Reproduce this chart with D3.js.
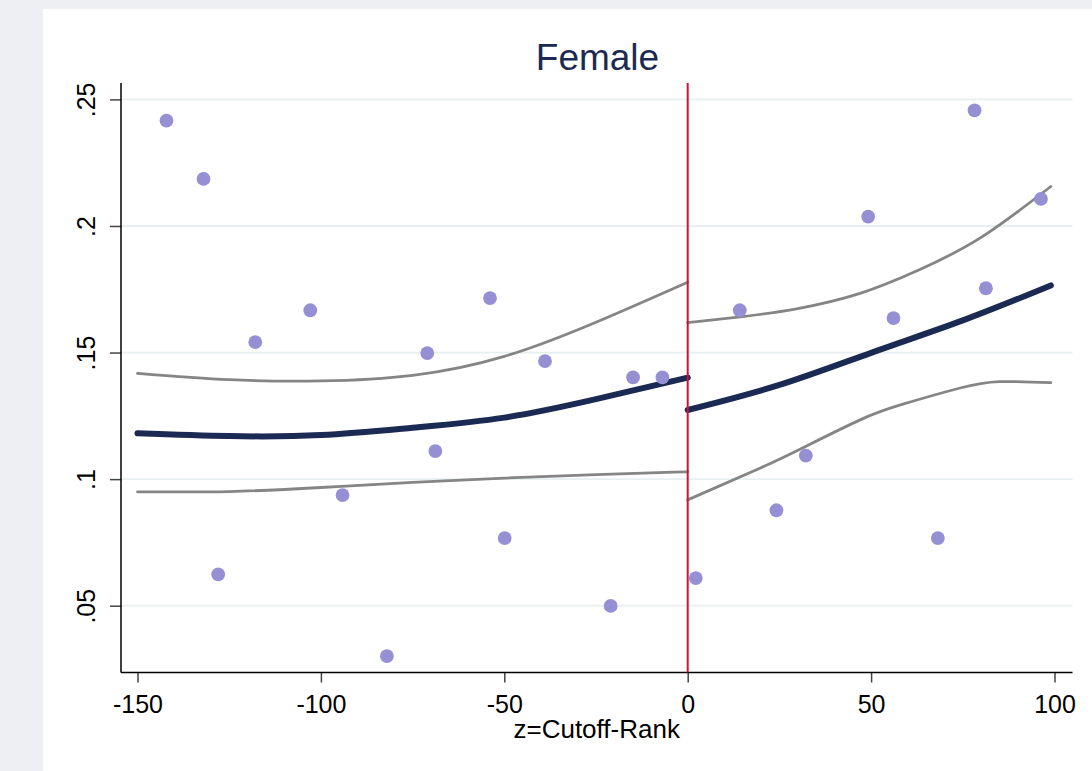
<!DOCTYPE html>
<html>
<head>
<meta charset="utf-8">
<script src="https://cdn.jsdelivr.net/npm/d3@7"></script>
<style>
  body { margin: 0; background: #eeeff2; }
  text { font-family: "Liberation Sans", Arial, sans-serif; }
</style>
</head>
<body>
<div id="chart"></div>
<script>
// binned means
const binX = [-142.1, -132.0, -128.0, -117.9, -102.9, -94.1, -82.0, -71.0, -68.8, -53.9,
              -49.9, -38.9, -21.0, -14.9, -6.9, 2.2, 14.2, 24.2, 32.2, 49.2,
              56.1, 68.2, 78.2, 81.3, 96.3];
const binY = [0.2416, 0.2186, 0.0624, 0.1541, 0.1667, 0.0937, 0.0301, 0.1498, 0.1111, 0.1715,
              0.0767, 0.1466, 0.0499, 0.1402, 0.1402, 0.0609, 0.1667, 0.0877, 0.1093, 0.2037,
              0.1636, 0.0767, 0.2457, 0.1754, 0.2107];

// fitted line and CI, left of cutoff
const leftX = [-150, -125, -100, -75, -50, -25, 0];
const leftFit = [0.1181, 0.1170, 0.1174, 0.1203, 0.1243, 0.1316, 0.1401];
const leftUpper = [0.1418, 0.1393, 0.1388, 0.1410, 0.1485, 0.1620, 0.1778];
const leftLower = [0.0950, 0.0951, 0.0967, 0.0987, 0.1004, 0.1018, 0.1029];

// right of cutoff
const rightFitX = [0, 25, 50, 75, 99];
const rightFit = [0.1273, 0.1372, 0.1499, 0.1627, 0.1765];
const rightUpperX = [0, 15, 30, 47, 63, 80, 99];
const rightUpper = [0.1618, 0.1642, 0.1674, 0.1734, 0.1826, 0.1955, 0.2156];
const rightLowerX = [0, 20, 32, 47, 58, 74, 85, 99];
const rightLower = [0.0918, 0.1045, 0.1128, 0.1234, 0.1293, 0.1359, 0.1385, 0.1381];

const xTicks = [-150, -100, -50, 0, 50, 100];
const yTicks = [0.05, 0.1, 0.15, 0.2, 0.25];
const yTickLabels = [".05", ".1", ".15", ".2", ".25"];
const cutoff = 0;

const width = 1092, height = 771;
const plotLeft = 121, plotRight = 1072.5, plotTop = 83, plotBottom = 672.5;

const svg = d3.select("#chart").append("svg")
    .attr("width", width)
    .attr("height", height);

svg.append("rect")
    .attr("width", width).attr("height", height)
    .attr("fill", "#eeeff2");
svg.append("rect")
    .attr("x", 43).attr("y", 9)
    .attr("width", width - 43).attr("height", height - 9)
    .attr("fill", "#ffffff");

const x = d3.scaleLinear().domain([-150, 100]).range([137.5, 1054.5]);
const y = d3.scaleLinear().domain([0.05, 0.25]).range([605.7, 99.4]);

// gridlines
svg.append("g")
    .selectAll("line")
    .data(yTicks)
    .join("line")
        .attr("x1", plotLeft)
        .attr("x2", plotRight)
        .attr("y1", d => y(d))
        .attr("y2", d => y(d))
        .attr("stroke", "#e7eff0")
        .attr("stroke-width", 1.8);

// y axis
const yAxis = svg.append("g")
    .attr("transform", `translate(${plotLeft},0)`)
    .call(d3.axisLeft(y)
        .tickValues(yTicks)
        .tickSize(11)
        .tickFormat((d, i) => yTickLabels[i]));
yAxis.select(".domain").remove();
yAxis.selectAll(".tick line").attr("stroke", "#444").attr("stroke-width", 1.5);
yAxis.selectAll(".tick text")
    .attr("transform", "rotate(-90)")
    .attr("text-anchor", "middle")
    .attr("x", 0)
    .attr("y", -26)
    .attr("dy", 0)
    .attr("font-size", 25)
    .attr("fill", "#000");

// x axis (plain hyphen for negatives, as in the original)
const xAxis = svg.append("g")
    .attr("transform", `translate(0,${plotBottom})`)
    .call(d3.axisBottom(x)
        .tickValues(xTicks)
        .tickSize(10)
        .tickFormat(d => String(d)));
xAxis.select(".domain").remove();
xAxis.selectAll(".tick line").attr("stroke", "#444").attr("stroke-width", 1.5);
xAxis.selectAll(".tick text")
    .attr("y", 40)
    .attr("dy", 0)
    .attr("font-size", 25)
    .attr("fill", "#000");

// axis lines
svg.append("line")
    .attr("x1", plotLeft).attr("x2", plotLeft)
    .attr("y1", plotTop).attr("y2", plotBottom)
    .attr("stroke", "#000").attr("stroke-width", 1.5);
svg.append("line")
    .attr("x1", plotLeft).attr("x2", plotRight)
    .attr("y1", plotBottom).attr("y2", plotBottom)
    .attr("stroke", "#000").attr("stroke-width", 1.5);

// curves
const line = d3.line()
    .x(d => x(d[0]))
    .y(d => y(d[1]))
    .curve(d3.curveNatural);

const curves = [
    { xs: leftX, ys: leftUpper, color: "#858585", w: 2.8 },
    { xs: leftX, ys: leftLower, color: "#858585", w: 2.8 },
    { xs: rightUpperX, ys: rightUpper, color: "#858585", w: 2.8 },
    { xs: rightLowerX, ys: rightLower, color: "#858585", w: 2.8 },
    { xs: leftX, ys: leftFit, color: "#1b2a52", w: 6 },
    { xs: rightFitX, ys: rightFit, color: "#1b2a52", w: 6 }
];

svg.append("g")
    .selectAll("path")
    .data(curves)
    .join("path")
        .attr("d", c => line(c.xs.map((v, i) => [v, c.ys[i]])))
        .attr("fill", "none")
        .attr("stroke", c => c.color)
        .attr("stroke-width", c => c.w)
        .attr("stroke-linecap", "round");

// cutoff line
svg.append("line")
    .attr("x1", x(cutoff)).attr("x2", x(cutoff))
    .attr("y1", plotTop).attr("y2", plotBottom)
    .attr("stroke", "#c8143c")
    .attr("stroke-width", 2);

// points
svg.append("g")
    .selectAll("circle")
    .data(binX.map((v, i) => [v, binY[i]]))
    .join("circle")
        .attr("cx", d => x(d[0]))
        .attr("cy", d => y(d[1]))
        .attr("r", 6.9)
        .attr("fill", "#9590d3");

// titles
svg.append("text")
    .attr("x", 597.5)
    .attr("y", 70)
    .attr("text-anchor", "middle")
    .attr("font-size", 37)
    .attr("fill", "#1b2a52")
    .text("Female");

svg.append("text")
    .attr("x", 596.7)
    .attr("y", 738)
    .attr("text-anchor", "middle")
    .attr("font-size", 26)
    .attr("fill", "#000")
    .text("z=Cutoff-Rank");
</script>
</body>
</html>
